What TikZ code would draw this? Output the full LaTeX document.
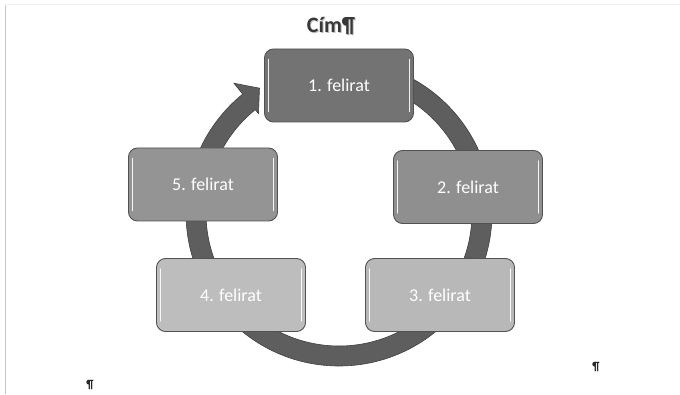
\documentclass[tikz,border=0pt]{standalone}
\usepackage{fontspec}
\setmainfont{Carlito}
\begin{document}
\begin{tikzpicture}[x=1pt,y=1pt,
  stepbox/.style={draw=black!68, line width=0.9pt, rounded corners=9pt,
    minimum width=149pt, minimum height=73pt, inner sep=0pt,
    text=white, font=\fontsize{18}{20}\selectfont},
  ringcol/.style={fill=black!63, draw=black!75, line width=0.6pt},
  gloss/.style={draw=white, line width=1.4pt, line cap=round, opacity=0.9},
  titlefont/.style={font=\bfseries\fontsize{22}{24}\selectfont},
  markfont/.style={font=\bfseries\fontsize{12}{13}\selectfont, text=black!85}]
\useasboundingbox (0,0) rectangle (680,394);
\fill[white] (0,0) rectangle (680,394);
% page edges
\draw[black!22, line width=1pt] (5.5,0) -- (5.5,389);
\draw[black!5, line width=1pt] (5.5,389) -- (680,389);
% ring with arrow
\begin{scope}[shift={(339,181)}]
\path[ringcol] (90:153pt) arc[start angle=90, end angle=-231, radius=153pt]
  -- (-231:167pt) -- (-237.5:148pt) -- (-231:128pt) -- (-231:133pt)
  arc[start angle=-231, end angle=90, radius=133pt] -- cycle;
\end{scope}
% boxes
\node[stepbox, fill=black!55] (b1) at (339,308.5) {1. felirat};
\node[stepbox, fill=black!44] (b2) at (468,207) {2. felirat};
\node[stepbox, fill=black!28] (b3) at (440,99) {3. felirat};
\node[stepbox, fill=black!26] (b4) at (231,99) {4. felirat};
\node[stepbox, fill=black!42] (b5) at (203,209.5) {5. felirat};
\foreach \b in {b1,b2,b3,b4,b5}{
  \draw[gloss] ([xshift=4.5pt,yshift=-11pt]\b.north west) -- ([xshift=4.5pt,yshift=11pt]\b.south west);
  \draw[gloss] ([xshift=-4.5pt,yshift=-11pt]\b.north east) -- ([xshift=-4.5pt,yshift=11pt]\b.south east);
}
% title and marks
\node[titlefont, text=black!25] (tshadow) at (332,367) {Cím¶};
\node[titlefont, text=black!78] (title) at (331,368) {Cím¶};
\node[markfont] (p1) at (596,27) {¶};
\node[markfont] (p2) at (90,9) {¶};
\end{tikzpicture}
\end{document}
